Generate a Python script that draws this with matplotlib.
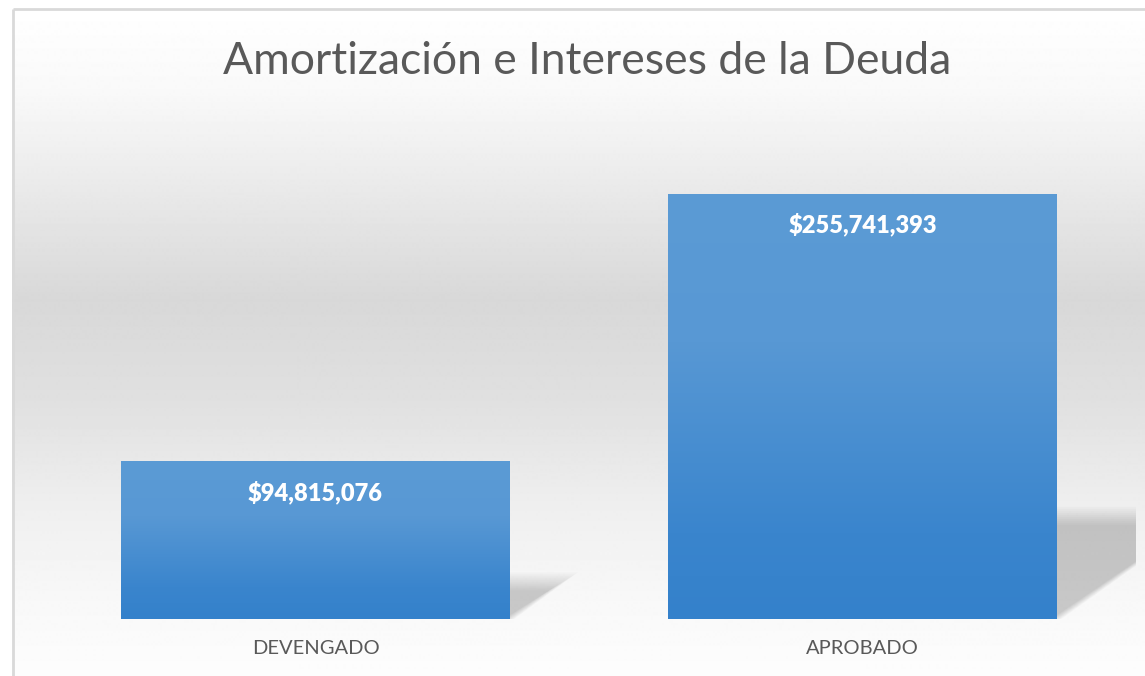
import numpy as np
import matplotlib
matplotlib.use("Agg")
import matplotlib.pyplot as plt
from matplotlib.colors import LinearSegmentedColormap
from matplotlib.patches import Polygon

# ---- data ----
categories = ["DEVENGADO", "APROBADO"]
values = [94815076, 255741393]
value_labels = ["$94,815,076", "$255,741,393"]
title = "Amortización e Intereses de la Deuda"

W, H = 1145, 676
DPI = 100
fig = plt.figure(figsize=(W / DPI, H / DPI), dpi=DPI)
fig.patch.set_facecolor("white")

# ---- background gradient (chart area) ----
bg = fig.add_axes([0, 0, 1, 1], zorder=0)
bg.set_xlim(0, W)
bg.set_ylim(H, 0)
bg.axis("off")
stops_y = [8, 90, 180, 300, 400, 500, 600, 676]
stops_v = [255, 249, 235, 216, 224, 238, 248, 253]
ys = np.arange(8, H + 1)
vals = np.interp(ys, stops_y, stops_v) / 255.0
grad = np.repeat(vals[:, None], 2, axis=1)
bg.imshow(grad, cmap="gray", vmin=0, vmax=1, extent=[12, W, H, 8], aspect="auto",
          interpolation="bilinear")
bg.plot([12.5, 12.5], [8.5, H], color="#d9d9d9", lw=2, solid_capstyle="butt")
bg.plot([12.5, W], [8.5, 8.5], color="#d9d9d9", lw=2, solid_capstyle="butt")

fig.text(587 / W, 1 - 61 / H, title, ha="center", va="center",
         fontsize=32, color="#595959", family="Lato")

# ---- plot area ----
left, right, top, bottom = 42, 1136, 120, 619
ax = fig.add_axes([left / W, 1 - bottom / H, (right - left) / W, (bottom - top) / H], zorder=1)
ax.patch.set_alpha(0)
ax.set_xlim(-0.5, 1.5)
ax.set_ylim(0, 300e6)
for s in ["top", "right", "left", "bottom"]:
    ax.spines[s].set_visible(False)
ax.set_yticks([])
ax.set_xticks([])

x = np.arange(len(categories))
bars = ax.bar(x, values, width=0.711, color="none", edgecolor="none", zorder=3)

cmap = LinearSegmentedColormap.from_list("b", [(0, "#5b9bd5"), (0.35, "#5898d4"), (0.8, "#3a85cd"), (1, "#3481cb")])
grad_img = np.linspace(0, 1, 256)[:, None]
fig.canvas.draw()
inv = ax.transData.inverted()
for b, v, lab, cat in zip(bars, values, value_labels, categories):
    x0, w = b.get_x(), b.get_width()
    im = ax.imshow(grad_img, cmap=cmap, extent=[x0, x0 + w, 0, v], aspect="auto",
                   zorder=3, interpolation="bilinear", origin="upper")
    im.set_clip_path(b)
    (rx, by) = ax.transData.transform((x0 + w, 0))
    (_, ty) = ax.transData.transform((x0 + w, v))
    hp = ty - by
    # shadow (computed in pixels from the bar geometry)
    n = 10
    for k in range(n):
        e = (k - n / 2) * 2.0
        pts = [(rx - 6, by + 0.245 * hp + e), (rx + 0.35 * hp + 1.6 * e, by + 0.245 * hp + e),
               (rx + 0.0, by - e * 0.4)]
        dpts = inv.transform(pts)
        ax.add_patch(Polygon(dpts, closed=True, facecolor="black", edgecolor="none",
                             alpha=0.021, zorder=2))
    cx = x0 + w / 2
    yl = inv.transform((0, ty - 31))[1]
    ax.text(cx, yl, lab, ha="center", va="center", color="white", fontsize=17,
            fontweight="heavy", family="Lato", zorder=5)
    ycat = inv.transform((0, by - 30))[1]
    ax.text(cx, ycat, cat, ha="center", va="center", color="#595959",
            fontsize=14.5, family="Lato", clip_on=False)

fig.savefig("out.png", dpi=DPI)
